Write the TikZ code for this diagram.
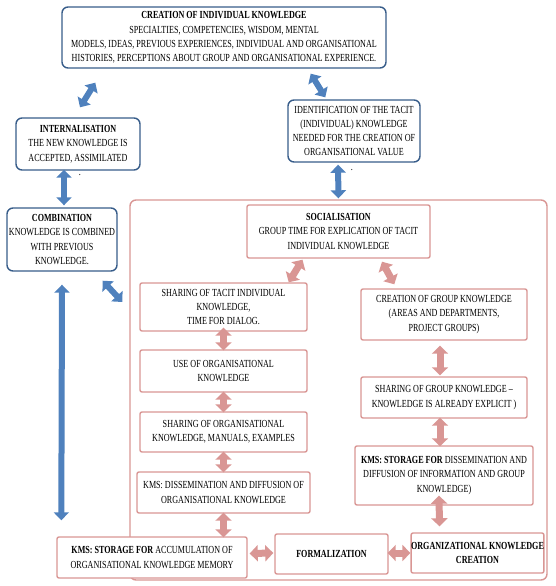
\documentclass[tikz,border=0pt]{standalone}
\usepackage{fontspec}
\setmainfont{Liberation Serif}[FakeStretch=0.75]
\usetikzlibrary{arrows.meta,calc}
\definecolor{bdark}{HTML}{385D8A}
\definecolor{bfill}{HTML}{4F81BD}
\definecolor{pinkc}{HTML}{D99694}
\tikzset{
  txt/.style={font=\fontsize{10.8}{14.3}\selectfont},
  bbox/.style={txt, draw=bdark, line width=1.4pt, rounded corners=6pt, fill=white, align=center, inner sep=0pt},
  pbox/.style={txt, draw=pinkc, line width=1.4pt, rounded corners=2pt, fill=white, align=center, inner sep=0pt},
  barrow/.style={draw=bfill, line width=6pt, {Triangle[width=15pt,length=8pt]}-{Triangle[width=15pt,length=8pt]}},
  parrow/.style={draw=pinkc, line width=7pt, {Triangle[width=16pt,length=8pt]}-{Triangle[width=16pt,length=8pt]}},
  dotnote/.style={txt, inner sep=0pt}
}
\begin{document}
\begin{tikzpicture}[x=1pt,y=-1pt]
\useasboundingbox (0,0) rectangle (555,586);
% container
\draw[draw=pinkc, line width=1.4pt, rounded corners=6pt] (130,200) rectangle (547,580);
% blue boxes
\node[bbox, minimum width=324pt, minimum height=61pt] (create) at (224,37.5) {\textbf{CREATION OF INDIVIDUAL KNOWLEDGE}\\SPECIALTIES, COMPETENCIES, WISDOM, MENTAL\\MODELS, IDEAS, PREVIOUS EXPERIENCES, INDIVIDUAL AND ORGANISATIONAL\\HISTORIES, PERCEPTIONS ABOUT GROUP AND ORGANISATIONAL EXPERIENCE.};
\node[bbox, minimum width=132pt, minimum height=62pt] (ident) at (354,131) {IDENTIFICATION OF THE TACIT\\(INDIVIDUAL) KNOWLEDGE\\NEEDED FOR THE CREATION OF\\ORGANISATIONAL VALUE};
\node[bbox, minimum width=124pt, minimum height=52pt] (intern) at (78,144) {\textbf{INTERNALISATION}\\THE NEW KNOWLEDGE IS\\ACCEPTED, ASSIMILATED};
\node[bbox, minimum width=110pt, minimum height=63pt] (comb) at (62,239.5) {\textbf{COMBINATION}\\KNOWLEDGE IS COMBINED\\WITH PREVIOUS\\KNOWLEDGE.};
\node[dotnote] (dot1) at (80,175) {.};
\node[dotnote] (dot2) at (352,170) {.};
% pink boxes
\node[pbox, minimum width=183pt, minimum height=53pt] (social) at (338.5,231.5) {\textbf{SOCIALISATION}\\GROUP TIME FOR EXPLICATION OF TACIT\\INDIVIDUAL KNOWLEDGE};
\node[pbox, minimum width=167pt, minimum height=48pt] (sharetacit) at (223.5,307) {SHARING OF TACIT INDIVIDUAL\\KNOWLEDGE,\\TIME FOR DIALOG.};
\node[pbox, minimum width=167pt, minimum height=42pt] (useorg) at (223.5,371) {USE OF ORGANISATIONAL\\KNOWLEDGE};
\node[pbox, minimum width=167pt, minimum height=40pt] (shareorg) at (223.5,432) {SHARING OF ORGANISATIONAL\\KNOWLEDGE, MANUALS, EXAMPLES};
\node[pbox, minimum width=173pt, minimum height=41pt] (kmsdiss) at (223.5,492.5) {KMS: DISSEMINATION AND DIFFUSION OF\\ORGANISATIONAL KNOWLEDGE};
\node[pbox, minimum width=190pt, minimum height=41pt] (kmsacc) at (152,557.5) {\textbf{KMS: STORAGE FOR} ACCUMULATION OF\\ORGANISATIONAL KNOWLEDGE MEMORY};
\node[pbox, minimum width=113pt, minimum height=40pt] (formal) at (331.5,554) {\textbf{FORMALIZATION}};
\node[pbox, minimum width=131pt, minimum height=40pt] (orgcreate) at (477.5,553) {\textbf{ORGANIZATIONAL KNOWLEDGE}\\\textbf{CREATION}};
\node[pbox, minimum width=166pt, minimum height=51pt] (groupcreate) at (444,314.5) {CREATION OF GROUP KNOWLEDGE\\(AREAS AND DEPARTMENTS,\\PROJECT GROUPS)};
\node[pbox, minimum width=166pt, minimum height=41pt] (sharegroup) at (444,397.5) {SHARING OF GROUP KNOWLEDGE --\\KNOWLEDGE IS ALREADY EXPLICIT )};
\node[pbox, minimum width=178pt, minimum height=59pt] (kmsstore) at (444,475.5) {\textbf{KMS: STORAGE FOR} DISSEMINATION AND\\DIFFUSION OF INFORMATION AND GROUP\\KNOWLEDGE)};
% blue arrows
\draw[barrow] ($(intern.north)+(2,-10)$) -- ($(create.south west)+(34,14)$);
\draw[barrow] ($(create.south east)+(-76,5)$) -- ($(ident.north west)+(38,-2)$);
\draw[barrow] ($(ident.south)+(-16,2)$) -- ($(social.north)+(0,-6)$);
\draw[barrow] ($(intern.south)+(-14,-1)$) -- ($(comb.north)+(2,-2)$);
\draw[barrow] ($(comb.south)+(0,13)$) -- ($(kmsacc.north west)+(5,-16)$);
\draw[barrow] ($(comb.south east)+(-15,9)$) -- ($(sharetacit.west)+(-17,-5)$);
% pink arrows
\draw[parrow] ($(social.south)+(-36,1)$) -- ($(sharetacit.north east)+(-19,0)$);
\draw[parrow] ($(social.south)+(43.5,3)$) -- ($(groupcreate.north west)+(34,-4)$);
\draw[parrow] ($(sharetacit.south)+(0,-4)$) -- ($(useorg.north)+(0,1)$);
\draw[parrow] ($(useorg.south)+(0,-1)$) -- ($(shareorg.north)+(0,1)$);
\draw[parrow] ($(shareorg.south)+(0,-1)$) -- ($(kmsdiss.north)+(0,1)$);
\draw[parrow] ($(kmsdiss.south)+(0,-1)$) -- ($(kmsdiss.south |- kmsacc.north)+(0,1)$);
\draw[parrow] ($(kmsacc.east)+(2,-4)$) -- ($(formal.west)+(-1,-1)$);
\draw[parrow] ($(formal.east)+(-1,-1)$) -- ($(orgcreate.west)+(0,0)$);
\draw[parrow] ($(groupcreate.south)+(-4,5)$) -- ($(sharegroup.north)+(-4,-1)$);
\draw[parrow] ($(sharegroup.south)+(-4,-1)$) -- ($(kmsstore.north)+(-4,1)$);
\draw[parrow] ($(kmsstore.south)+(-5,-10)$) -- ($(orgcreate.north)+(-38,-6)$);
\end{tikzpicture}
\end{document}
